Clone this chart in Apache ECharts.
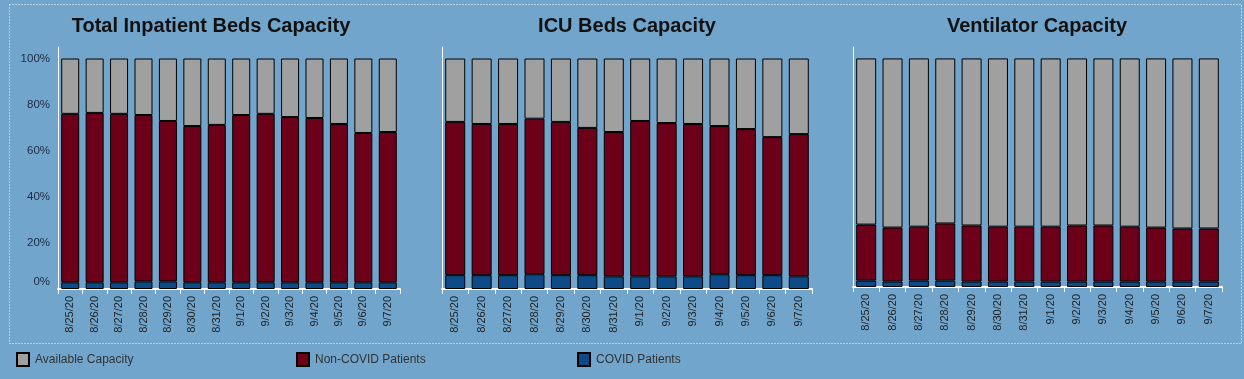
<!DOCTYPE html>
<html><head><meta charset="utf-8">
<script src="https://cdn.jsdelivr.net/npm/echarts@6/dist/echarts.min.js"></script>
<style>html,body{margin:0;padding:0;background:#71a5cc;}#c{width:1244px;height:379px;}</style>
</head><body><div id="c"></div>
<script>
const dates = ['8/25/20','8/26/20','8/27/20','8/28/20','8/29/20','8/30/20','8/31/20','9/1/20','9/2/20','9/3/20','9/4/20','9/5/20','9/6/20','9/7/20'];
const titles = ['Total Inpatient Beds Capacity','ICU Beds Capacity','Ventilator Capacity'];
const seriesNames = ['COVID Patients','Non-COVID Patients','Available Capacity'];
const yTicks = [0,20,40,60,80,100];
// Total inpatient beds (% of capacity)
const bedsCovid    = [2.9,2.9,2.9,3.3,3.3,2.9,2.9,2.9,2.9,2.9,2.9,2.9,2.9,2.9];
const bedsNonCovid = [73.1,73.5,73.1,72.2,69.6,67.8,68.3,72.6,73.1,71.7,71.3,68.7,64.8,65.2];
const bedsAvail    = [24.0,23.6,24.0,24.5,27.1,29.3,28.8,24.5,24.0,25.4,25.8,28.4,32.3,31.9];
// ICU beds
const icuCovid     = [6.0,6.0,6.0,6.4,6.0,6.0,5.5,5.5,5.5,5.5,6.4,6.0,6.0,5.5];
const icuNonCovid  = [66.5,65.6,65.6,67.5,66.5,63.9,62.6,67.4,66.5,66.1,64.3,63.4,59.9,61.7];
const icuAvail     = [27.5,28.4,28.4,26.1,27.5,30.1,31.9,27.1,28.0,28.4,29.3,30.6,34.1,32.8];
// Ventilators
const ventCovid    = [2.8,2.4,2.8,2.8,2.4,2.4,2.4,2.4,2.4,2.4,2.4,2.4,2.4,2.4];
const ventNonCovid = [24.5,23.6,23.6,25.0,24.5,24.0,24.0,24.0,24.5,24.5,24.0,23.6,23.2,23.2];
const ventAvail    = [72.7,74.0,73.6,72.2,73.1,73.6,73.6,73.6,73.1,73.1,73.6,74.0,74.4,74.4];

const colors = {'COVID Patients':'#0e4a87','Non-COVID Patients':'#6c0019','Available Capacity':'#a0a0a0'};
const data = [[bedsCovid,bedsNonCovid,bedsAvail],[icuCovid,icuNonCovid,icuAvail],[ventCovid,ventNonCovid,ventAvail]];
const grids = [
  {left:58, top:47, width:342, height:242},
  {left:442, top:47, width:370, height:242},
  {left:853, top:47, width:369, height:240}
];
const barW = [18,20,20];
const titleX = [211,627,1037];
const font = 'Liberation Sans, Arial, sans-serif';

const chart = echarts.init(document.getElementById('c'), null, {renderer:'canvas'});
const option = {
  backgroundColor:'#71a5cc',
  animation:false,
  textStyle:{fontFamily:font},
  title: titles.map((t,i)=>({text:t, left:titleX[i], top:16, textAlign:'center', padding:0,
    textStyle:{fontFamily:font, fontSize:20, fontWeight:'bold', color:'#111'}})),
  graphic:[{type:'rect', shape:{x:9.5,y:4.5,width:1232,height:339},
    style:{fill:'none', stroke:'#ffffff', lineWidth:1, lineDash:[1,2]}, silent:true}],
  legend: [
    {data:['Available Capacity'], left:16},
    {data:['Non-COVID Patients'], left:296},
    {data:['COVID Patients'], left:577}
  ].map(l=>Object.assign(l,{top:352, padding:0, itemWidth:12, itemHeight:13, icon:'rect', itemGap:6,
    textStyle:{fontFamily:font, fontSize:12, color:'#333', padding:[0,0,0,1]}})),
  grid: grids,
  xAxis: grids.map((g,i)=>({type:'category', gridIndex:i, data:dates,
    axisLine:{lineStyle:{color:'#ffffff', width:2}},
    axisTick:{show:true, length:5, lineStyle:{color:'#ffffff', width:1}},
    axisLabel:{rotate:90, fontSize:11, color:'#222', margin:7, fontFamily:font}})),
  yAxis: grids.map((g,i)=>({type:'value', gridIndex:i, min:0, max:105, interval:20,
    axisLine:{show:true, lineStyle:{color:'#ffffff', width:1}},
    axisTick:{show:false}, splitLine:{show:false},
    axisLabel:{show:i===0, fontSize:11.5, color:'#1e2a44', margin:8, fontFamily:font,
      formatter:v=> yTicks.indexOf(v)<0 ? '' : (v===0 ? '{z|0%}' : v+'%'),
      rich:{z:{fontSize:11.5, color:'#1e2a44', padding:[0,0,14,0], fontFamily:font}}}})),
  series: []
};
data.forEach((set,gi)=>{
  set.forEach((vals,si)=>{
    const name = seriesNames[si];
    option.series.push({name:name, type:'bar', stack:'s'+gi, xAxisIndex:gi, yAxisIndex:gi,
      data:vals, barWidth:barW[gi],
      itemStyle:{color:colors[name], borderColor:'#000', borderWidth:1}});
  });
});
chart.setOption(option);
</script></body></html>
